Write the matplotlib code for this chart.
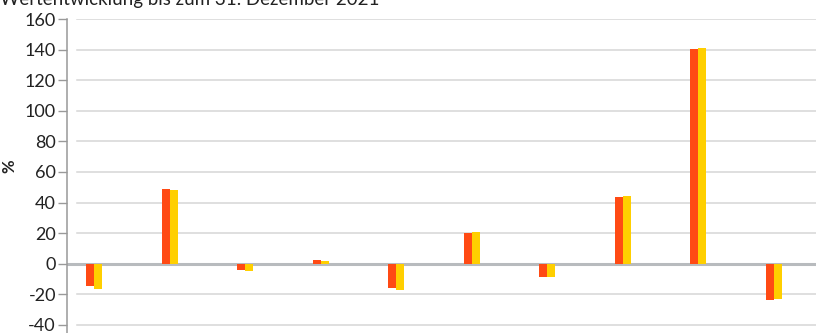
import matplotlib
matplotlib.use("Agg")
import matplotlib.pyplot as plt
import numpy as np

# Wertentwicklung je Fonds/Index (in %)
categories = list(range(1, 11))
series_a = [-14.5, 48.9, -3.9, 2.4, -16.0, 20.2, -8.7, 43.6, 140.3, -23.5]
series_b = [-16.2, 48.4, -4.6, 1.8, -17.1, 20.6, -8.7, 44.5, 141.2, -22.7]
yticks = [-40, -20, 0, 20, 40, 60, 80, 100, 120, 140, 160]
title = "Wertentwicklung bis zum 31. Dezember 2021"

plt.rcParams["font.family"] = ["Lato", "DejaVu Sans"]

W, H = 816, 333
fig = plt.figure(figsize=(W / 100, H / 100), dpi=100)

left_px, top_px = 67, 19
ax = fig.add_axes([left_px / W, 0, 1 - left_px / W, (H - top_px) / H])

x = np.arange(len(categories))
bw = 0.106
ax.bar(x - bw / 2, series_a, width=bw, color="#FF4A14", zorder=3)
ax.bar(x + bw / 2, series_b, width=bw, color="#FFCF00", zorder=3)

ax.set_xlim(-0.358, 9.56)
px_per_unit = (264 - 50.3) / 140
ax.set_ylim(-40 - (H - 325) / px_per_unit, 160)
ax.set_yticks(yticks)
ax.set_yticklabels([str(v) for v in yticks], fontsize=13, color="#222222")
ax.set_xticks([])

gx = 10 / (W - left_px)
for v in yticks:
    if v == 0:
        ax.axhline(v, xmin=0, xmax=1, color="#b8bbbe", lw=2.2, zorder=2)
    else:
        ax.axhline(v, xmin=gx, xmax=1, color="#d6d6d6", lw=1.1, zorder=1)

for s in ["top", "right", "bottom"]:
    ax.spines[s].set_visible(False)
ax.spines["left"].set_color("#999999")
ax.spines["left"].set_linewidth(1.1)
ax.tick_params(axis="y", length=6.5, width=1, color="#999999", pad=1.5)

ax.set_ylabel("%", fontsize=12, fontweight="bold", color="#222222")
ax.yaxis.set_label_coords((17 - left_px) / (W - left_px), 0.53)

fig.text(0.0, 1.0, title, fontsize=13.5, color="#222222", va="center", ha="left")

fig.savefig("out.png", dpi=100)
